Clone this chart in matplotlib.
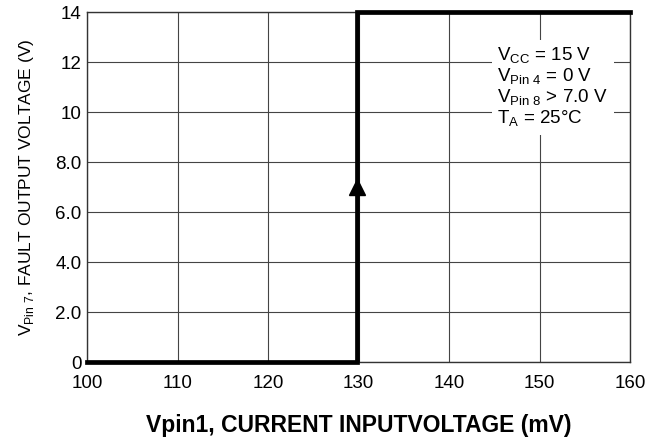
import matplotlib
matplotlib.use("Agg")
import matplotlib.pyplot as plt

# Data
x_vals = [100, 129.8, 129.8, 160]
y_vals = [0, 0, 14, 14]
arrow_x = [129.8]
arrow_y = [7.0]
x_ticks = [100, 110, 120, 130, 140, 150, 160]
y_ticks = [0, 2, 4, 6, 8, 10, 12, 14]
y_tick_labels = ["0", "2.0", "4.0", "6.0", "8.0", "10", "12", "14"]

font = "Liberation Sans"
plt.rcParams["mathtext.fontset"] = "custom"
plt.rcParams["mathtext.rm"] = font

fig = plt.figure(figsize=(6.6, 4.4), dpi=100)
ax = fig.add_axes([0.132, 0.177, 0.823, 0.795])
ax.set_xlim(100, 160)
ax.set_ylim(0, 14)
ax.set_xticks(x_ticks)
ax.set_yticks(y_ticks)
ax.set_xticklabels([str(v) for v in x_ticks], family=font, fontsize=13.5)
ax.set_yticklabels(y_tick_labels, family=font, fontsize=13.5)
ax.tick_params(axis="x", length=0, pad=9)
ax.tick_params(axis="y", length=0, pad=4)
ax.grid(True, color="#444444", linewidth=0.8)
for s in ax.spines.values():
    s.set_linewidth(1.0)
    s.set_color("#333333")

ax.plot(x_vals, y_vals, color="black", linewidth=3.4, clip_on=False, zorder=5,
        solid_joinstyle="miter")
ax.plot(arrow_x, arrow_y, marker="^", color="black", markersize=12, zorder=6,
        linestyle="none")

ax.set_xlabel("Vpin1, CURRENT INPUTVOLTAGE (mV)", family=font,
              fontweight="bold", fontsize=16.5, labelpad=16)
ax.set_ylabel(r"V$_{\mathregular{Pin\ 7}}$, FAULT OUTPUT VOLTAGE (V)", family=font,
              fontsize=12.5, labelpad=14)

txt = ("V$_{\\mathregular{CC}}$ = 15 V\n"
       "V$_{\\mathregular{Pin\\ 4}}$ = 0 V\n"
       "V$_{\\mathregular{Pin\\ 8}}$ > 7.0 V\n"
       "T$_{\\mathregular{A}}$ = 25°C")
ax.text(0.755, 0.905, txt, transform=ax.transAxes, family=font, fontsize=13.5,
        va="top", ha="left", linespacing=1.05,
        bbox=dict(facecolor="white", edgecolor="none", pad=4), zorder=4)

fig.savefig("out.png", dpi=100)
